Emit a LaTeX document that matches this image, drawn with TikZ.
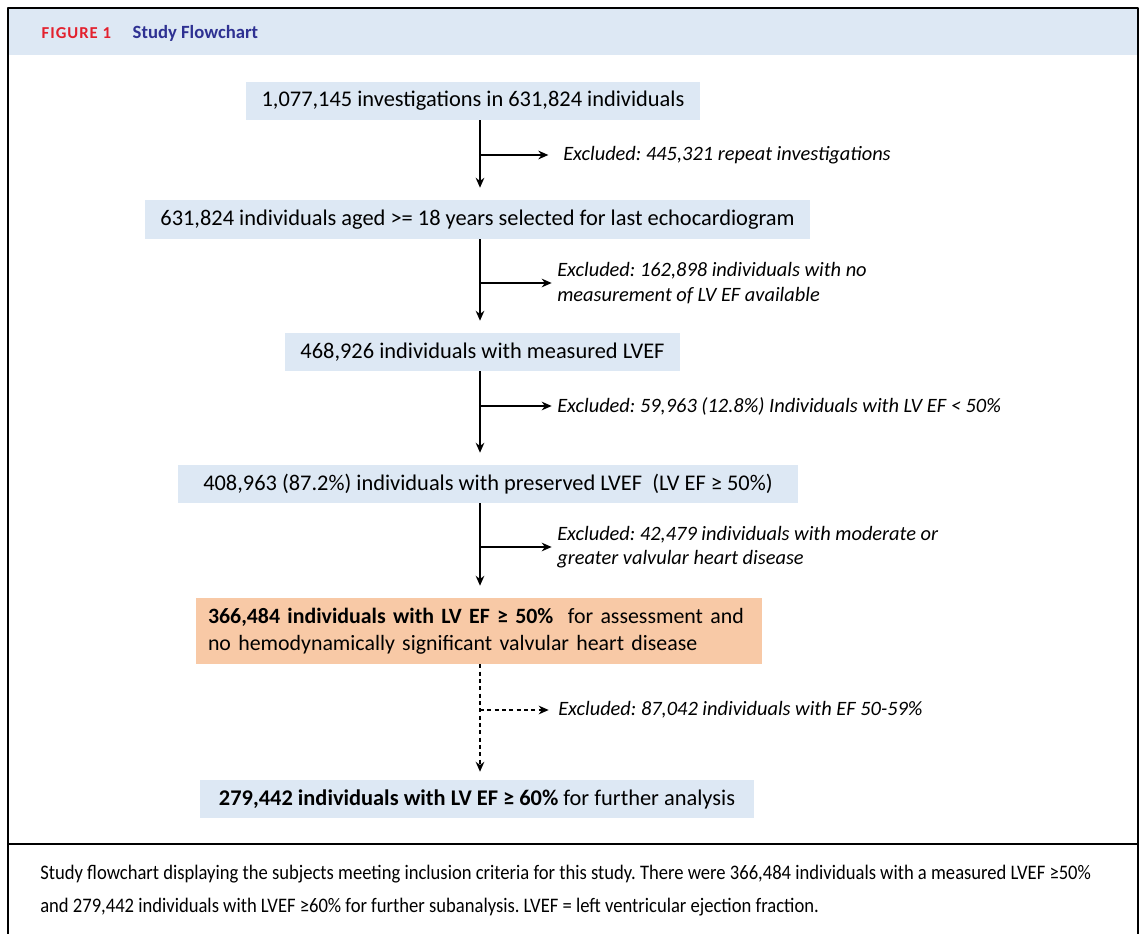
\documentclass[tikz,border=0pt]{standalone}
\usepackage{fontspec}
\setmainfont{Carlito}
\newfontfamily\capfont[FakeStretch=0.9]{Carlito}
\usetikzlibrary{arrows.meta,positioning}
\definecolor{boxblue}{HTML}{DDE8F4}
\definecolor{boxorange}{HTML}{F8C9A6}
\definecolor{figred}{HTML}{E3202D}
\definecolor{fignavy}{HTML}{2E3192}
\frenchspacing
\begin{document}
\begin{tikzpicture}[x=0.75pt, y=-0.75pt, line join=round, font=\fontsize{16.8}{19}\selectfont, >={Stealth[length=7.5pt,width=6.5pt]}]
	\tikzset{box/.style={fill=boxblue, minimum height=28.5pt, inner sep=0pt},
		excl/.style={anchor=west, align=left, inner sep=0pt, font=\fontsize{15.3}{18.5}\selectfont\itshape},
		flow/.style={->, line width=1.1pt, shorten >=9pt}}
	\useasboundingbox (0,0) rectangle (1141,934);
	\fill[boxblue] (9,9) rectangle (1137,55);
	\draw[line width=1.6pt] (8,940) |- (1138,8) -- (1138,940);
	\draw[line width=1.2pt] (8,844) -- (1138,844);
	\node[anchor=west, text=figred, font=\fontsize{12.5}{14}\selectfont\bfseries\addfontfeature{LetterSpace=6}] (fig) at (37,33) {FIGURE 1};
	\node[anchor=west, text=fignavy, font=\fontsize{14}{16}\selectfont\bfseries] (title) at (128,33) {Study Flowchart};
	\coordinate (trunk) at (480,0);
	\node[box, minimum width=340.5pt] (b1) at (473,101) {1,077,145 investigations in 631,824 individuals};
	\node[box, minimum width=498.75pt, minimum height=29.25pt] (b2) at (477.5,219.5) {631,824 individuals aged >= 18 years selected for last echocardiogram};
	\node[box, minimum width=296.25pt] (b3) at (482.5,352) {468,926 individuals with measured LVEF};
	\node[box, minimum width=465pt] (b4) at (488,484) {408,963 (87.2\%) individuals with preserved LVEF~~(LV EF ≥ 50\%)};
	\node[box, fill=boxorange, minimum height=49.5pt, text width=406.5pt, inner xsep=9pt, align=left, font=\fontsize{16.4}{20.25}\selectfont] (b5) at (479,631) {\mbox{\textbf{366,484 individuals with LV EF ≥ 50\%}~~for assessment and}\\no hemodynamically significant valvular heart disease};
	\node[box, minimum width=415.5pt] (b6) at (477,799) {\textbf{279,442 individuals with LV EF ≥ 60\%} for further analysis};
	\node[excl] (e1) at (563,155) {Excluded: 445,321 repeat investigations};
	\node[excl] (e2) at (557,283) {Excluded: 162,898 individuals with no\\measurement of LV EF available};
	\node[excl] (e3) at (557,406) {Excluded: 59,963 (12.8\%) Individuals with LV EF < 50\%};
	\node[excl] (e4) at (557,547) {Excluded: 42,479 individuals with moderate or\\greater valvular heart disease};
	\node[excl] (e5) at (558,710) {Excluded: 87,042 individuals with EF 50-59\%};
	\draw[flow] (b1.south -| trunk) -- (b2.north -| trunk);
	\draw[flow] (b2.south -| trunk) -- (b3.north -| trunk);
	\draw[flow] (b3.south -| trunk) -- (b4.north -| trunk);
	\draw[flow] (b4.south -| trunk) -- (b5.north -| trunk);
	\draw[flow, dash pattern=on 3pt off 2.5pt, shorten >=6pt] (b5.south -| trunk) -- (b6.north -| trunk);
	\draw[flow, shorten >=11pt] (e1.west -| trunk) -- (e1.west);
	\draw[flow, shorten >=4pt] (e2.west -| trunk) -- (e2.west);
	\draw[flow, shorten >=4pt] (e3.west -| trunk) -- (e3.west);
	\draw[flow, shorten >=4pt] (e4.west -| trunk) -- (e4.west);
	\draw[flow, dash pattern=on 3pt off 2.5pt, shorten >=7pt] (e5.west -| trunk) -- (e5.west);
	\node[anchor=west, align=left, inner sep=0pt, font=\capfont\fontsize{15.5}{24.75}\selectfont] (cap) at (40,891) {Study flowchart displaying the subjects meeting inclusion criteria for this study. There were 366,484 individuals with a measured LVEF ≥50\%\\and 279,442 individuals with LVEF ≥60\% for further subanalysis. LVEF = left ventricular ejection fraction.};
\end{tikzpicture}
\end{document}
